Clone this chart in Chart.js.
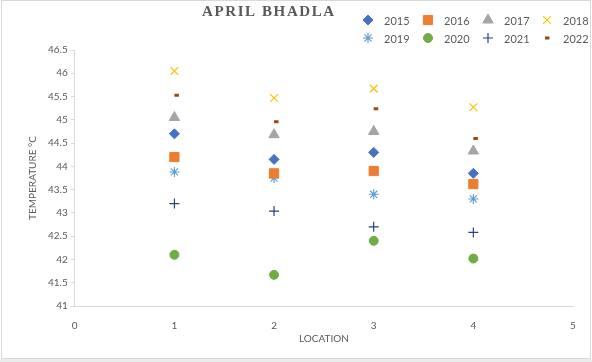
<!DOCTYPE html>
<html>
<head>
<meta charset="utf-8">
<script src="https://cdn.jsdelivr.net/npm/chart.js@4/dist/chart.umd.min.js"></script>
<style>
  html, body { margin: 0; padding: 0; background: #fff; }
  #wrap { width: 592px; height: 362px; position: relative; }
</style>
</head>
<body>
<div id="wrap"><canvas id="chart" width="592" height="362"></canvas></div>
<script>
const locations = [1, 2, 3, 4];
const years = ["2015", "2016", "2017", "2018", "2019", "2020", "2021", "2022"];
const temp2015 = [44.7, 44.15, 44.3, 43.85];
const temp2016 = [44.2, 43.85, 43.9, 43.62];
const temp2017 = [45.05, 44.68, 44.75, 44.33];
const temp2018 = [46.05, 45.47, 45.67, 45.27];
const temp2019 = [43.88, 43.75, 43.4, 43.3];
const temp2020 = [42.1, 41.67, 42.4, 42.02];
const temp2021 = [43.2, 43.04, 42.7, 42.58];
const temp2022 = [45.53, 44.96, 45.24, 44.6];
const yTicks = [41, 41.5, 42, 42.5, 43, 43.5, 44, 44.5, 45, 45.5, 46, 46.5];
const xTicks = [0, 1, 2, 3, 4, 5];

const seriesValues = [temp2015, temp2016, temp2017, temp2018, temp2019, temp2020, temp2021, temp2022];
const markers = [
  { style: "rectRot", color: "#4472C4", radius: 5, width: 1 },
  { style: "rect", color: "#ED7D31", radius: 6.5, width: 1 },
  { style: "triangle", color: "#A5A5A5", radius: 6, width: 1 },
  { style: "crossRot", color: "#FFC000", radius: 5.5, width: 1.2 },
  { style: "star", color: "#5B9BD5", radius: 5, width: 1.1 },
  { style: "circle", color: "#70AD47", radius: 4.5, width: 1 },
  { style: "cross", color: "#264478", radius: 5, width: 1.2 },
  { style: "dash", color: "#9E480E", radius: 4.5, width: 3 },
];

const datasets = years.map((year, i) => ({
  label: year,
  data: locations.map((x, j) => ({ x, y: seriesValues[i][j] })),
  pointStyle: markers[i].style,
  pointRadius: markers[i].radius,
  pointBorderWidth: markers[i].width,
  pointBackgroundColor: markers[i].color,
  pointBorderColor: markers[i].color,
  showLine: false,
}));

const frame = {
  id: "frame",
  beforeDraw(chart) {
    const ctx = chart.ctx;
    ctx.save();
    ctx.fillStyle = "#fff";
    ctx.fillRect(0, 0, chart.width, chart.height);
    ctx.strokeStyle = "#d9d9d9";
    ctx.lineWidth = 1;
    ctx.strokeRect(1.5, 0.5, chart.width - 3, 358);
    ctx.fillStyle = "#ececec";
    ctx.fillRect(0, 359, chart.width, 3);
    ctx.restore();
  },
};

const header = {
  id: "header",
  afterDraw(chart) {
    const ctx = chart.ctx;
    ctx.save();
    ctx.fillStyle = "#595959";
    ctx.font = "bold 15px 'Liberation Serif', serif";
    ctx.letterSpacing = "1.6px";
    ctx.textBaseline = "middle";
    ctx.textAlign = "left";
    ctx.fillText("APRIL BHADLA", 202, 12);
    ctx.letterSpacing = "0px";
    ctx.font = "11px Lato, sans-serif";
    const colX = [368, 428, 488, 547];
    const rowY = [20, 38];
    years.forEach((year, i) => {
      const x = colX[i % 4];
      const y = rowY[Math.floor(i / 4)];
      const m = markers[i];
      ctx.fillStyle = m.color;
      ctx.strokeStyle = m.color;
      ctx.lineWidth = m.width;
      Chart.helpers.drawPoint(ctx, { pointStyle: m.style, radius: m.radius, borderWidth: m.width, rotation: 0 }, m.style === "dash" ? x - 2 : x, y);
      ctx.fillStyle = "#595959";
      ctx.fillText(year, x + 16, y + 1);
    });
    ctx.restore();
  },
};

new Chart(document.getElementById("chart"), {
  type: "scatter",
  data: { datasets },
  options: {
    responsive: false,
    animation: false,
    layout: { padding: { top: 50, right: 19, left: 23, bottom: 17 } },
    plugins: {
      legend: { display: false },
      tooltip: { enabled: false },
    },
    scales: {
      x: {
        type: "linear",
        min: 0,
        max: 5,
        afterBuildTicks: (axis) => { axis.ticks = xTicks.map((v) => ({ value: v })); },
        grid: { display: false, drawOnChartArea: false },
        border: { color: "#d9d9d9" },
        ticks: { color: "#595959", font: { family: "Lato", size: 10 }, padding: 6 },
        title: { display: true, text: "LOCATION", color: "#595959", font: { family: "Lato", size: 10 }, padding: { top: -5, bottom: 0 } },
      },
      y: {
        min: 41,
        max: 46.5,
        afterBuildTicks: (axis) => { axis.ticks = yTicks.map((v) => ({ value: v })); },
        grid: { drawOnChartArea: false, tickLength: 4, color: "#d9d9d9" },
        border: { color: "#d9d9d9" },
        ticks: { color: "#595959", font: { family: "Lato", size: 10 }, padding: 3, callback: (v) => String(v) },
        title: { display: true, text: "TEMPERATURE °C", color: "#595959", font: { family: "Lato", size: 10 }, padding: { bottom: 6 } },
      },
    },
  },
  plugins: [frame, header],
});
</script>
</body>
</html>
